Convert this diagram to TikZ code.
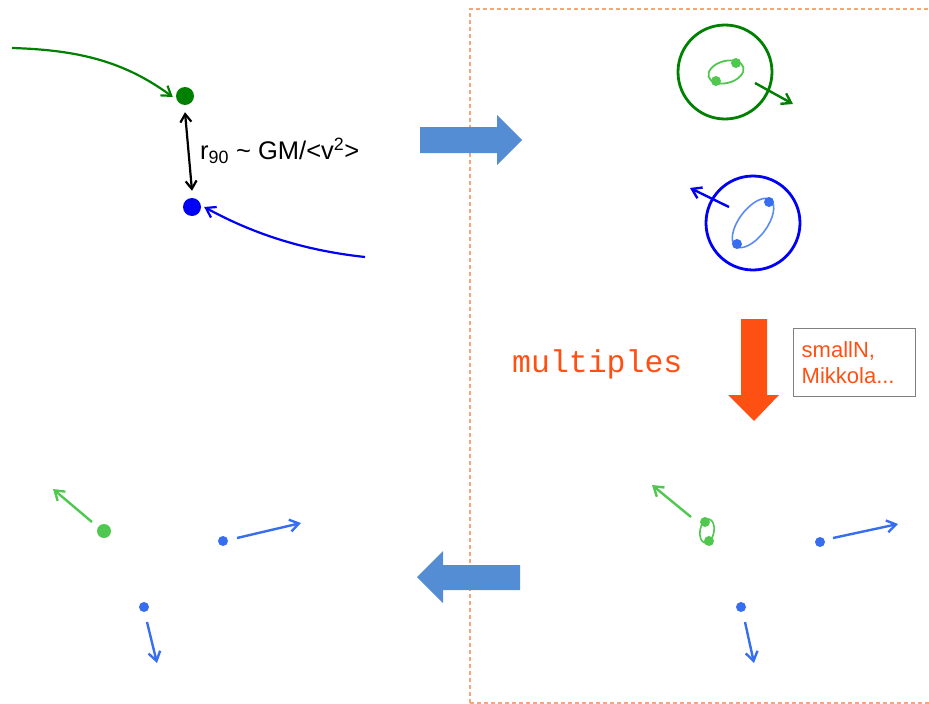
\documentclass[tikz,border=0pt]{standalone}
\usepackage{fontspec}
\setmainfont{Liberation Sans}
\setmonofont{Liberation Mono}
\usetikzlibrary{arrows.meta,positioning}
\definecolor{dkgreen}{RGB}{0,128,0}
\definecolor{ltgreen}{RGB}{80,200,80}
\definecolor{dkblue}{RGB}{0,0,245}
\definecolor{ltblue}{RGB}{55,110,240}
\definecolor{orbblue}{RGB}{90,140,240}
\definecolor{panelblue}{RGB}{84,141,212}
\definecolor{hotorange}{RGB}{255,80,20}
\definecolor{framecol}{RGB}{245,165,120}

\begin{document}
\begin{tikzpicture}[
  x=1pt, y=-1pt,
  dot/.style={circle, fill=#1, inner sep=0pt, minimum size=18pt},
  sdot/.style={circle, fill=#1, inner sep=0pt, minimum size=10pt},
  path/.style={-{Straight Barb[length=9pt, width=12pt]}, line width=2.2pt, #1},
  kick/.style={-{Straight Barb[length=9pt, width=12pt]}, line width=2.4pt, #1},
  bigarrow/.style={fill=#1},
  frame/.style={dashed, dash pattern=on 4pt off 3pt, line width=1.2pt, framecol},
  lbl/.style={font=\fontsize{25.5}{29}\selectfont, inner sep=0pt}
]
  \useasboundingbox (0,0) rectangle (929,704);
  \clip (0,0) rectangle (929,704);

  % dashed frame of the right panel
  \draw[frame] (470,703) -- (470,9) -- (940,9);
  \draw[frame] (470,703) -- (940,703);

  % encounter
  \node[dot=dkgreen] (gdot) at (185,96) {};
  \node[dot=dkblue] (bdot) at (192,207) {};
  \coordinate (gstart) at (12,48);
  \coordinate (bstart) at (365,257);
  \draw[path=dkgreen] (gstart) .. controls (80,50) and (125,62) .. ([xshift=-3pt,yshift=-1pt]gdot.west);
  \draw[path=dkblue] (bstart) .. controls (300,250) and (250,232) .. ([xshift=3pt]bdot.east);
  \draw[{Straight Barb[length=8pt, width=11pt]}-{Straight Barb[length=8pt, width=11pt]}, line width=2.2pt]
    ([yshift=-7pt]gdot.south) -- ([yshift=7pt]bdot.north);
  \node[lbl, anchor=west] (rlab) at (200,151) {r\textsubscript{90} \textasciitilde{} GM/<v\textsuperscript{2}>};

  % panel arrows
  \fill[bigarrow=panelblue] (420,127) -- (497,127) -- (497,115) -- (522,140) -- (497,165) -- (497,153) -- (420,153) -- cycle;
  \fill[bigarrow=panelblue] (520,565) -- (443,565) -- (443,551) -- (417,577) -- (443,603) -- (443,590) -- (520,590) -- cycle;
  \fill[bigarrow=hotorange] (741,319) -- (767,319) -- (767,395) -- (779,395) -- (754,421) -- (728,395) -- (741,395) -- cycle;

  % bound pairs
  \draw[dkgreen, line width=2.8pt] (725,72) circle (47);
  \draw[ltgreen, line width=1.8pt] (726,72) ellipse [x radius=18, y radius=11, rotate=15];
  \node[sdot=ltgreen] (g1) at (736,63) {};
  \node[sdot=ltgreen] (g2) at (716,81) {};
  \coordinate (gk0) at (755,83);
  \coordinate (gk1) at (793,104);
  \draw[kick=dkgreen] (gk0) -- (gk1);

  \draw[dkblue, line width=2.8pt] (753,223) circle (47);
  \draw[orbblue, line width=1.6pt] (753,223) ellipse [x radius=29, y radius=14, rotate=53];
  \node[sdot=ltblue] (b1) at (769,202) {};
  \node[sdot=ltblue] (b2) at (737,244) {};
  \coordinate (bk0) at (729,207);
  \coordinate (bk1) at (690,188);
  \draw[kick=dkblue] (bk0) -- (bk1);

  % multiples
  \node[font=\ttfamily\fontsize{31.5}{31.5}\selectfont, text=hotorange, inner sep=0pt, anchor=west] (mult) at (512,364) {multiples};
  \node[draw=gray, line width=1.4pt, text=hotorange, align=left, anchor=north west,
        text width=106pt, minimum height=68pt, inner xsep=8pt,
        font=\fontsize{22}{26}\selectfont] (solver) at (793,328) {smallN,\\Mikkola...};

  % outcome, left panel
  \node[dot=ltgreen, minimum size=14pt] (lg) at (104,531) {};
  \node[sdot=ltblue] (lb1) at (223,541) {};
  \node[sdot=ltblue] (lb2) at (144,607) {};
  \coordinate (lgk) at (53,489);
  \coordinate (lb1k) at (301,523);
  \coordinate (lb2k) at (157,663);
  \draw[kick=ltgreen] (92,522) -- (lgk);
  \draw[kick=ltblue] (237,538) -- (lb1k);
  \draw[kick=ltblue] (147,622) -- (lb2k);

  % outcome, right panel
  \draw[ltgreen, line width=1.6pt] (707,531) ellipse [x radius=7, y radius=12, rotate=-10];
  \node[sdot=ltgreen] (rg1) at (705,522) {};
  \node[sdot=ltgreen] (rg2) at (709,541) {};
  \node[sdot=ltblue] (rb1) at (820,542) {};
  \node[sdot=ltblue] (rb2) at (741,607) {};
  \coordinate (rgk) at (652,485);
  \coordinate (rb1k) at (898,524);
  \coordinate (rb2k) at (754,663);
  \draw[kick=ltgreen] (691,517) -- (rgk);
  \draw[kick=ltblue] (833,538) -- (rb1k);
  \draw[kick=ltblue] (745,622) -- (rb2k);
\end{tikzpicture}
\end{document}
